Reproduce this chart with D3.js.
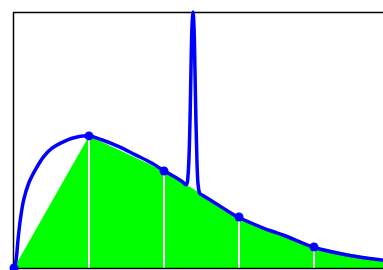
<!DOCTYPE html>
<html>
<head>
<meta charset="utf-8">
<script src="https://cdn.jsdelivr.net/npm/d3@7"></script>
<style>
  html, body { margin: 0; padding: 0; background: #fff; }
  svg { display: block; }
</style>
</head>
<body>
<div id="chart"></div>
<script>
// curve samples (x, value)
var curveX = [0, 0.027, 0.053, 0.084, 0.129, 0.196, 0.284, 0.396, 0.507, 0.617, 0.787, 1.0, 1.169, 1.391, 1.613, 1.836, 2.0, 2.147, 2.236,
  2.293, 2.307, 2.32, 2.333, 2.347, 2.36, 2.373, 2.387, 2.4, 2.413, 2.427, 2.44, 2.453, 2.467, 2.48,
  2.507, 2.68, 2.853, 2.987, 3.307, 3.613, 3.987, 4.44, 4.907, 5.0]
var curveY = [0, 0.03, 0.109, 0.188, 0.266, 0.331, 0.383, 0.435, 0.468, 0.487, 0.508, 0.516, 0.501, 0.475, 0.443, 0.410, 0.380, 0.355, 0.339,
  0.325, 0.33, 0.36, 0.43, 0.58, 0.78, 0.94, 1.0, 0.94, 0.77, 0.56, 0.41, 0.33, 0.30, 0.29,
  0.285, 0.254, 0.222, 0.199, 0.158, 0.126, 0.082, 0.051, 0.031, 0.028]

// sample points (markers, trapezoid corners)
var pointX = [0, 1, 2, 3, 4, 5]
var pointY = [0, 0.516, 0.379, 0.199, 0.082, 0.028]

var width = 383, height = 270
var margin = {top: 12, left: 14, bottom: 2}

var svg = d3.select("#chart").append("svg")
  .attr("width", width)
  .attr("height", height)

var x = d3.scaleLinear().domain([0, 5]).range([margin.left, margin.left + 375])
var y = d3.scaleLinear().domain([0, 1]).range([height - margin.bottom, margin.top])

var curve = curveX.map(function(d, i) { return {x: d, y: curveY[i]} })
var points = pointX.map(function(d, i) { return {x: d, y: pointY[i]} })

// green trapezoids
var area = points.slice()
area.push({x: 5, y: 0})
svg.append("path")
  .datum(area)
  .attr("fill", "#00ff00")
  .attr("stroke", "none")
  .attr("d", d3.line()
    .x(function(d) { return x(d.x) })
    .y(function(d) { return y(d.y) }))

// white dividers
svg.append("g")
  .selectAll("line")
  .data(points.filter(function(d) { return d.x > 0 }))
  .enter()
  .append("line")
  .attr("x1", function(d) { return x(d.x) })
  .attr("x2", function(d) { return x(d.x) })
  .attr("y1", y(0))
  .attr("y2", function(d) { return y(d.y) })
  .attr("stroke", "#fff")
  .attr("stroke-width", 2)

// frame
svg.append("path")
  .attr("fill", "none")
  .attr("stroke", "#000")
  .attr("stroke-width", 1.5)
  .attr("d", "M" + (width + 1) + "," + (y(1) + 0.5) + "H" + (x(0) - 0.5) + "V" + (y(0) + 0.5) + "H" + (width + 1))

// blue curve
svg.append("path")
  .datum(curve)
  .attr("fill", "none")
  .attr("stroke", "#0000ff")
  .attr("stroke-width", 3.5)
  .attr("stroke-linejoin", "round")
  .attr("d", d3.line()
    .curve(d3.curveCatmullRom.alpha(0.5))
    .x(function(d) { return x(d.x) })
    .y(function(d) { return y(d.y) }))

svg.append("g")
  .selectAll("circle")
  .data(points)
  .enter()
  .append("circle")
  .attr("cx", function(d) { return x(d.x) })
  .attr("cy", function(d) { return y(d.y) })
  .attr("r", 4.5)
  .attr("fill", "#0000ff")
</script>
</body>
</html>
